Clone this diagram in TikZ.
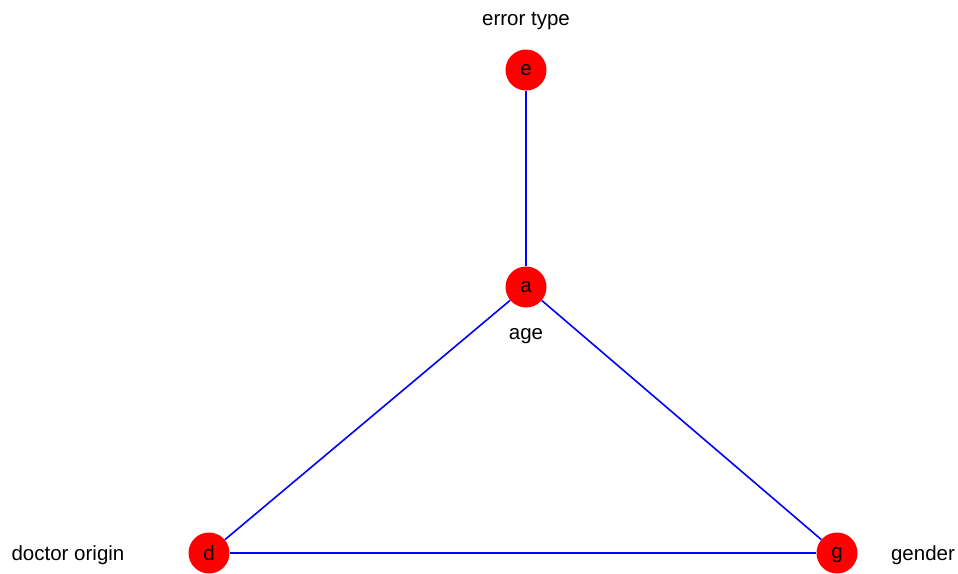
\documentclass[tikz,border=0pt]{standalone}
\usepackage{fontspec}
\setmainfont{Liberation Sans}
\begin{document}
\begin{tikzpicture}[x=1pt,y=-1pt,
    vert/.style={circle, fill=red, minimum size=41pt, inner sep=0pt, text depth=0pt, font=\fontsize{20.5}{24}\selectfont},
    etiq/.style={font=\fontsize{20.5}{24}\selectfont},
    arista/.style={blue, line width=1.6pt}]
    \useasboundingbox (0,0) rectangle (958,573);
    % Vertices
    \node[vert] (e) at (526,70) {e};
    \node[vert] (a) at (526,287) {a};
    \node[vert] (d) at (209,553) {d};
    \node[vert] (g) at (837,553) {g};
    % Etiquetas
    \node[etiq] (le) at (526,21) {error type};
    \node[etiq] (la) at (526,336) {age};
    \node[etiq] (ld) at (68,555) {doctor origin};
    \node[etiq] (lg) at (923,555) {gender};
    % Aristas
    \draw[arista] (e) -- (a);
    \draw[arista] (a) -- (d);
    \draw[arista] (a) -- (g);
    \draw[arista] (d) -- (g);
\end{tikzpicture}
\end{document}
